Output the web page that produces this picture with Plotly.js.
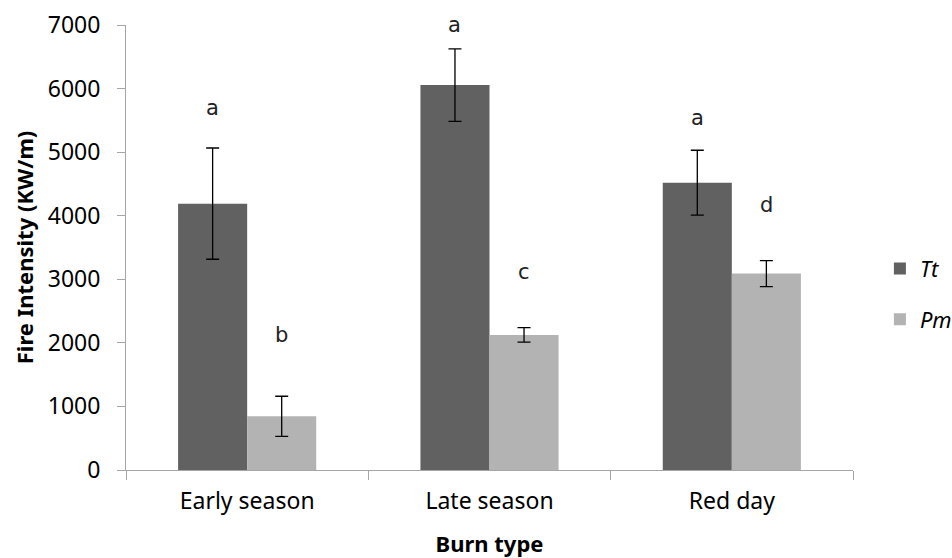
<!DOCTYPE html>
<html><head><meta charset="utf-8">
<script src="https://cdn.plot.ly/plotly-3.0.1.min.js"></script>
<style>html,body{margin:0;padding:0;background:#fff}#c{width:952px;height:558px}</style>
</head><body><div id="c"></div>
<script>
var categories = ["Early season", "Late season", "Red day"];
var seriesNames = ["Tt", "Pm"];
var ttValues = [4190, 6055, 4520];
var ttErrors = [875, 570, 510];
var pmValues = [845, 2125, 3090];
var pmErrors = [315, 115, 205];
var ttLetters = ["a", "a", "a"];
var pmLetters = ["b", "c", "d"];
var ttLetterY = [5690, 7000, 5540];
var pmLetterY = [2130, 3110, 4170];

var FONT = "Noto Sans, sans-serif";
var errStyle = {type: "data", visible: true, color: "#000", thickness: 1.3, width: 6.5};

var traces = [
  {type: "bar", name: seriesNames[0], x: categories, y: ttValues,
   marker: {color: "#616161", line: {width: 0}},
   error_y: Object.assign({array: ttErrors}, errStyle),
   legendgroup: "g1"},
  {type: "bar", name: seriesNames[1], x: categories, y: pmValues,
   marker: {color: "#b3b3b3", line: {width: 0}},
   error_y: Object.assign({array: pmErrors}, errStyle),
   legendgroup: "g2"}
];

var annotations = [];
var off = 0.1425;
categories.forEach(function (c, i) {
  annotations.push({x: i - off, y: ttLetterY[i], xref: "x", yref: "y", text: ttLetters[i],
    showarrow: false, font: {family: "DejaVu Sans, sans-serif", size: 21, color: "#222"}});
  annotations.push({x: i + off, y: pmLetterY[i], xref: "x", yref: "y", text: pmLetters[i],
    showarrow: false, font: {family: "DejaVu Sans, sans-serif", size: 21, color: "#222"}});
});

var layout = {
  width: 952, height: 558,
  margin: {l: 125.5, r: 99.3, t: 24.7, b: 87.5, autoexpand: false},
  paper_bgcolor: "#fff", plot_bgcolor: "#fff",
  font: {family: FONT, size: 23, color: "#000"},
  barmode: "group", bargap: 0.43, bargroupgap: 0,
  showlegend: true,
  legend: {x: 1.037, xanchor: "left", y: 0.395, yanchor: "middle",
    font: {family: FONT, size: 22, style: "italic", color: "#000"},
    traceorder: "grouped", tracegroupgap: 19, bgcolor: "rgba(0,0,0,0)"},
  xaxis: {type: "category", showline: true, linecolor: "#a6a6a6", linewidth: 1,
    ticks: "outside", ticklen: 9, tickcolor: "#a6a6a6", tickson: "boundaries",
    showgrid: false, zeroline: false, ticklabelstandoff: 10, automargin: false,
    tickfont: {family: FONT, size: 23, color: "#000"},
    title: {text: "<b>Burn type</b>", font: {family: FONT, size: 22, color: "#000"}, standoff: 22}},
  yaxis: {range: [0, 7000], dtick: 1000, showline: true, linecolor: "#a6a6a6", linewidth: 1,
    ticks: "outside", ticklen: 8, tickcolor: "#a6a6a6", showgrid: false, zeroline: false,
    ticklabelstandoff: 12, automargin: false,
    tickfont: {family: FONT, size: 23, color: "#000"},
    title: {text: "<b>Fire Intensity (KW/m)</b>", font: {family: FONT, size: 22, color: "#000"}, standoff: 8}},
  annotations: annotations
};

Plotly.newPlot("c", traces, layout, {displayModeBar: false, staticPlot: true});
</script></body></html>
